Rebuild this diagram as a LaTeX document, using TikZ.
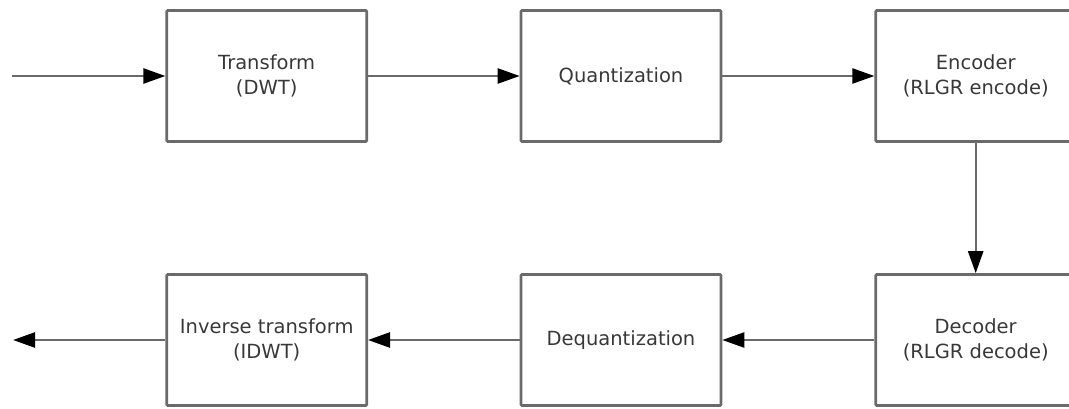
\documentclass[tikz,border=0pt]{standalone}
\usepackage{fontspec}
\setmainfont{DejaVu Sans}
\usetikzlibrary{arrows.meta}
\definecolor{linegray}{HTML}{6A6A6A}
\definecolor{textgray}{HTML}{383838}
\begin{document}
\begin{tikzpicture}[x=1pt,y=-1pt,
  blk/.style={draw=linegray, line width=2.6pt, minimum width=200pt, minimum height=131pt,
    inner sep=0pt, align=center, text=textgray, font=\fontsize{19.5}{25}\selectfont, rounded corners=1pt},
  conn/.style={draw=linegray, line width=2.4pt,
    -{Triangle[length=22pt,width=15pt,color=black]}}]
\useasboundingbox (0,0) rectangle (1069,409);
\clip (0,0) rectangle (1069,409);
\node[blk] (t) at (266.7,76) {Transform\\(DWT)};
\node[blk] (q) at (621,76) {Quantization};
\node[blk] (e) at (975.7,76) {Encoder\\(RLGR encode)};
\node[blk] (d) at (975.7,340) {Decoder\\(RLGR decode)};
\node[blk] (dq) at (621,340) {Dequantization};
\node[blk] (it) at (266.7,340) {Inverse transform\\(IDWT)};
\coordinate (in) at (12,76);
\coordinate (out) at (13,340);
\draw[conn] (in) -- (t.west);
\draw[conn] (t.east) -- (q.west);
\draw[conn] (q.east) -- (e.west);
\draw[conn] (e.south) -- (d.north);
\draw[conn] (d.west) -- (dq.east);
\draw[conn] (dq.west) -- (it.east);
\draw[conn] (it.west) -- (out);
\end{tikzpicture}
\end{document}
